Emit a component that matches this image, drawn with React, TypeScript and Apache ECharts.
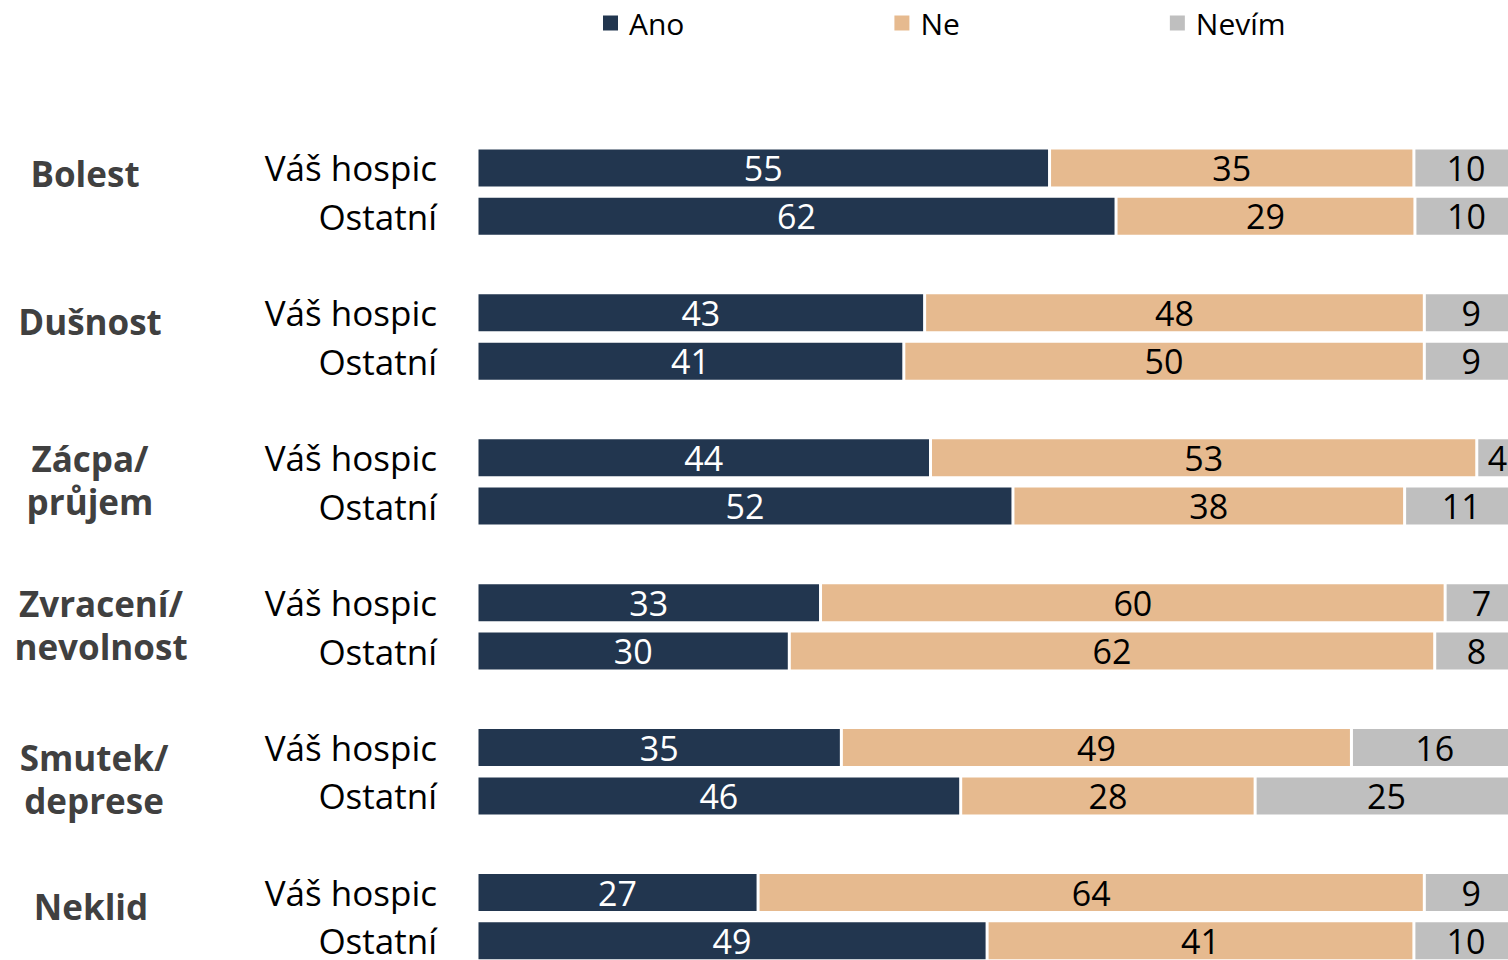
import React, { useEffect, useRef } from "react";
import * as echarts from "echarts";

const groups = ["Bolest", "Dušnost", "Zácpa/\nprůjem", "Zvracení/\nnevolnost", "Smutek/\ndeprese", "Neklid"];
const rowNames = ["Váš hospic", "Ostatní"];
const seriesNames = ["Ano", "Ne", "Nevím"];

// values per group: [Váš hospic, Ostatní]
const ano = [[55, 62], [43, 41], [44, 52], [33, 30], [35, 46], [27, 49]];
const ne = [[35, 29], [48, 50], [53, 38], [60, 62], [49, 28], [64, 41]];
const nevim = [[10, 10], [9, 9], [4, 11], [7, 8], [16, 25], [9, 10]];

const colors = ["#22364F", "#E6BA8F", "#BFBFBF"];
const labelColors = ["#FFFFFF", "#000000", "#000000"];

// layout for group titles (center x, center y)
const groupLabelLayout = [
  [85, 173],
  [90, 321],
  [90, 480],
  [101, 625],
  [94, 779],
  [91, 906],
];

export default function App() {
  const ref = useRef<HTMLDivElement>(null);
  useEffect(() => {
    if (!ref.current) return;
    const chart = echarts.init(ref.current, null, { renderer: "svg" });
    const font = "'Open Sans', 'Noto Sans', sans-serif";

    const cats: string[] = [];
    const catLabels: string[] = [];
    const slotRef: ([number, number] | null)[] = [];
    groups.forEach((_, g) => {
      rowNames.forEach((r, k) => {
        cats.push(`c${g}_${k}`);
        catLabels.push(r);
        slotRef.push([g, k]);
      });
      if (g < groups.length - 1) {
        cats.push(`s${g}`);
        catLabels.push("");
        slotRef.push(null);
      }
    });

    const all = [ano, ne, nevim];
    const series = all.map((arr, si) => ({
      name: seriesNames[si],
      type: "bar",
      stack: "total",
      barWidth: 40,
      itemStyle: { color: colors[si], borderColor: "#FFFFFF", borderWidth: 1.5 },
      label: {
        show: true,
        position: "inside",
        color: labelColors[si],
        fontSize: 34,
        fontFamily: font,
        formatter: (p: any) => String(p.data.raw),
      },
      data: slotRef.map((s) => {
        if (!s) return { value: "-", raw: "" };
        const [g, k] = s;
        const total = ano[g][k] + ne[g][k] + nevim[g][k];
        return { value: (arr[g][k] / total) * 100, raw: arr[g][k] };
      }),
    }));

    const option: any = {
      animation: false,
      backgroundColor: "#FFFFFF",
      legend: {
        data: seriesNames,
        left: 601,
        top: 8,
        padding: 0,
        icon: "rect",
        itemWidth: 17,
        itemHeight: 17,
        itemGap: 208,
        textStyle: { fontSize: 30, color: "#000000", fontFamily: font, padding: [0, 0, 0, 5] },
      },
      grid: { left: 477, right: 0, top: 143.8, bottom: 5, containLabel: false },
      xAxis: {
        type: "value",
        min: 0,
        max: 100,
        show: false,
      },
      yAxis: {
        type: "category",
        data: cats,
        inverse: true,
        axisLine: { show: false },
        axisTick: { show: false },
        axisLabel: {
          fontSize: 35,
          color: "#000000",
          fontFamily: font,
          margin: 40,
          formatter: (_v: string, i: number) => catLabels[i],
        },
      },
      series,
      graphic: groups.map((g, i) => ({
        type: "text",
        x: groupLabelLayout[i][0],
        y: groupLabelLayout[i][1],
        style: {
          text: g,
          fontSize: 35,
          fontWeight: "bold",
          fontFamily: font,
          fill: "#404040",
          align: "center",
          verticalAlign: "middle",
          lineHeight: 43,
        },
      })),
    };
    chart.setOption(option);
    return () => chart.dispose();
  }, []);
  return (
    <div style={{ position: "absolute", left: 0, top: 0, width: 1508, height: 960, overflow: "hidden" }}>
      <div ref={ref} style={{ position: "absolute", left: 0, top: 0, width: 1518, height: 970 }} />
    </div>
  );
}
